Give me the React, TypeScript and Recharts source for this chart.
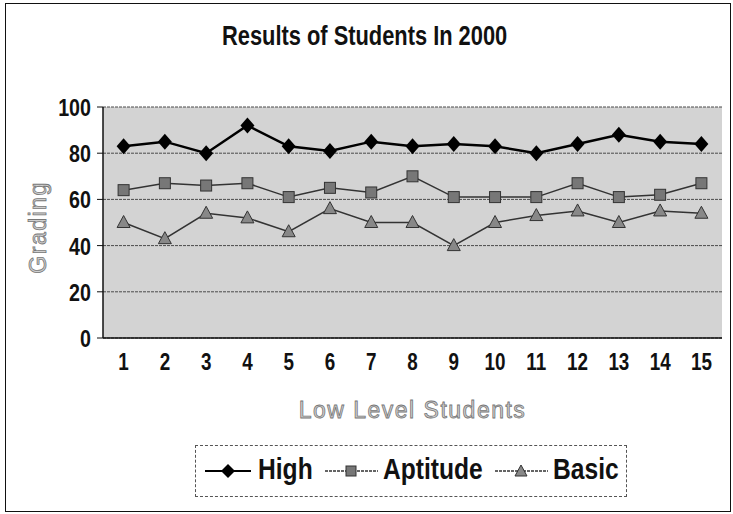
import { LineChart, Line, XAxis, YAxis, CartesianGrid } from 'recharts';

const students = ['1', '2', '3', '4', '5', '6', '7', '8', '9', '10', '11', '12', '13', '14', '15'];
const high = [83, 85, 80, 92, 83, 81, 85, 83, 84, 83, 80, 84, 88, 85, 84];
const aptitude = [64, 67, 66, 67, 61, 65, 63, 70, 61, 61, 61, 67, 61, 62, 67];
const basic = [50, 43, 54, 52, 46, 56, 50, 50, 40, 50, 53, 55, 50, 55, 54];
const yTicks = [0, 20, 40, 60, 80, 100];

const data = students.map((s, i) => ({ s, high: high[i], aptitude: aptitude[i], basic: basic[i] }));

const FONT = '"Liberation Sans", Arial, sans-serif';

const Diamond = ({ cx, cy }: any) => (
  <path d={`M${cx},${cy - 8} L${cx + 7},${cy} L${cx},${cy + 8} L${cx - 7},${cy} Z`} fill="#000" />
);
const Square = ({ cx, cy }: any) => (
  <rect x={cx - 5.5} y={cy - 5.5} width={11} height={11} fill="#777" stroke="#333" strokeWidth={1} />
);
const Triangle = ({ cx, cy }: any) => (
  <path d={`M${cx},${cy - 7} L${cx + 6.5},${cy + 5} L${cx - 6.5},${cy + 5} Z`} fill="#888" stroke="#333" strokeWidth={1} />
);

// narrow bold tick text, like the Arial Narrow of the original
const XTick = ({ x, y, payload }: any) => (
  <text transform={`translate(${x},${y + 20}) scale(0.82,1)`} textAnchor="middle" fontFamily={FONT} fontWeight="bold" fontSize={23} fill="#111">
    {payload.value}
  </text>
);
const YTick = ({ x, y, payload }: any) => (
  <text transform={`translate(${x},${y + 9}) scale(0.82,1)`} textAnchor="end" fontFamily={FONT} fontWeight="bold" fontSize={24} fill="#111">
    {payload.value}
  </text>
);

const axisTitle = { fontFamily: FONT, fontSize: 23, fill: '#d0d0d0', stroke: '#777', strokeWidth: 0.8, letterSpacing: 1.5 };

const YLabel = ({ viewBox }: any) => {
  const x = viewBox.x + 30;
  const y = viewBox.y + viewBox.height / 2 + 5;
  return (
    <text x={x} y={y} transform={`rotate(-90 ${x} ${y})`} textAnchor="middle" dominantBaseline="central" style={axisTitle}>
      Grading
    </text>
  );
};

const XLabel = ({ viewBox }: any) => (
  <text x={viewBox.x + viewBox.width / 2} y={viewBox.y + 80} textAnchor="middle" style={axisTitle}>
    Low Level Students
  </text>
);

const narrow = (left: number, width: number, top: number, size: number, text: string, sx = 0.82) => (
  <div style={{ position: 'absolute', left, top, width, whiteSpace: 'nowrap', fontFamily: FONT, fontWeight: 'bold', fontSize: size, color: '#111' }}>
    <span style={{ display: 'inline-block', transform: `scaleX(${sx})`, transformOrigin: 'left center' }}>{text}</span>
  </div>
);

export default function App() {
  return (
    <div style={{ position: 'absolute', left: 0, top: 0, width: 733, height: 514, background: '#fff' }}>
      <div style={{ position: 'absolute', left: 5, top: 3, width: 724, height: 507, border: '1.5px solid #111' }} />
      {narrow(222, 300, 20, 28, 'Results of Students In 2000', 0.78)}
      <div style={{ position: 'absolute', left: 0, top: 0 }}>
        <LineChart width={733} height={514} data={data} margin={{ top: 107, right: 11, bottom: 86, left: 8 }}>
          <CartesianGrid vertical={false} fill="#d3d3d3" stroke="#4a4a4a" strokeDasharray="3 1" horizontalValues={yTicks} />
          <XAxis dataKey="s" padding={{ left: 20.6, right: 20.6 }} height={90} tickLine={false}
            axisLine={{ stroke: '#111', strokeWidth: 1.5 }} tickMargin={6}
            tick={<XTick />} label={<XLabel />} />
          <YAxis domain={[0, 100]} ticks={yTicks} width={95} tickSize={6} tickMargin={6}
            axisLine={{ stroke: '#111', strokeWidth: 1.5 }} tickLine={{ stroke: '#111' }}
            tick={<YTick />} label={<YLabel />} />
          <YAxis yAxisId="r" orientation="right" width={0} tick={false} tickLine={false} axisLine={{ stroke: '#555', strokeWidth: 1.5 }} />
          <Line dataKey="high" stroke="#000" strokeWidth={2.5} dot={<Diamond />} isAnimationActive={false} />
          <Line dataKey="aptitude" stroke="#333" strokeWidth={1.5} dot={<Square />} isAnimationActive={false} />
          <Line dataKey="basic" stroke="#333" strokeWidth={1.5} dot={<Triangle />} isAnimationActive={false} />
        </LineChart>
      </div>
      <div style={{ position: 'absolute', left: 195, top: 445, width: 432, height: 52, boxSizing: 'border-box', border: '1.5px dashed #555' }} />
      <svg style={{ position: 'absolute', left: 0, top: 0 }} width={733} height={514} pointerEvents="none">
        <line x1={205} y1={471} x2={251} y2={471} stroke="#000" strokeWidth={2} />
        <path d="M228,464 L235,471 L228,478 L221,471 Z" fill="#000" />
        <line x1={325} y1={471} x2={378} y2={471} stroke="#333" strokeWidth={1.5} strokeDasharray="3 1" />
        <rect x={346} y={466} width={10} height={10} fill="#777" stroke="#333" />
        <line x1={495} y1={471} x2={548} y2={471} stroke="#333" strokeWidth={1.5} strokeDasharray="3 1" />
        <path d="M521,465 L527,476 L515,476 Z" fill="#888" stroke="#333" />
      </svg>
      {narrow(258, 60, 452, 30, 'High')}
      {narrow(383, 110, 452, 30, 'Aptitude')}
      {narrow(553, 70, 452, 30, 'Basic')}
    </div>
  );
}
